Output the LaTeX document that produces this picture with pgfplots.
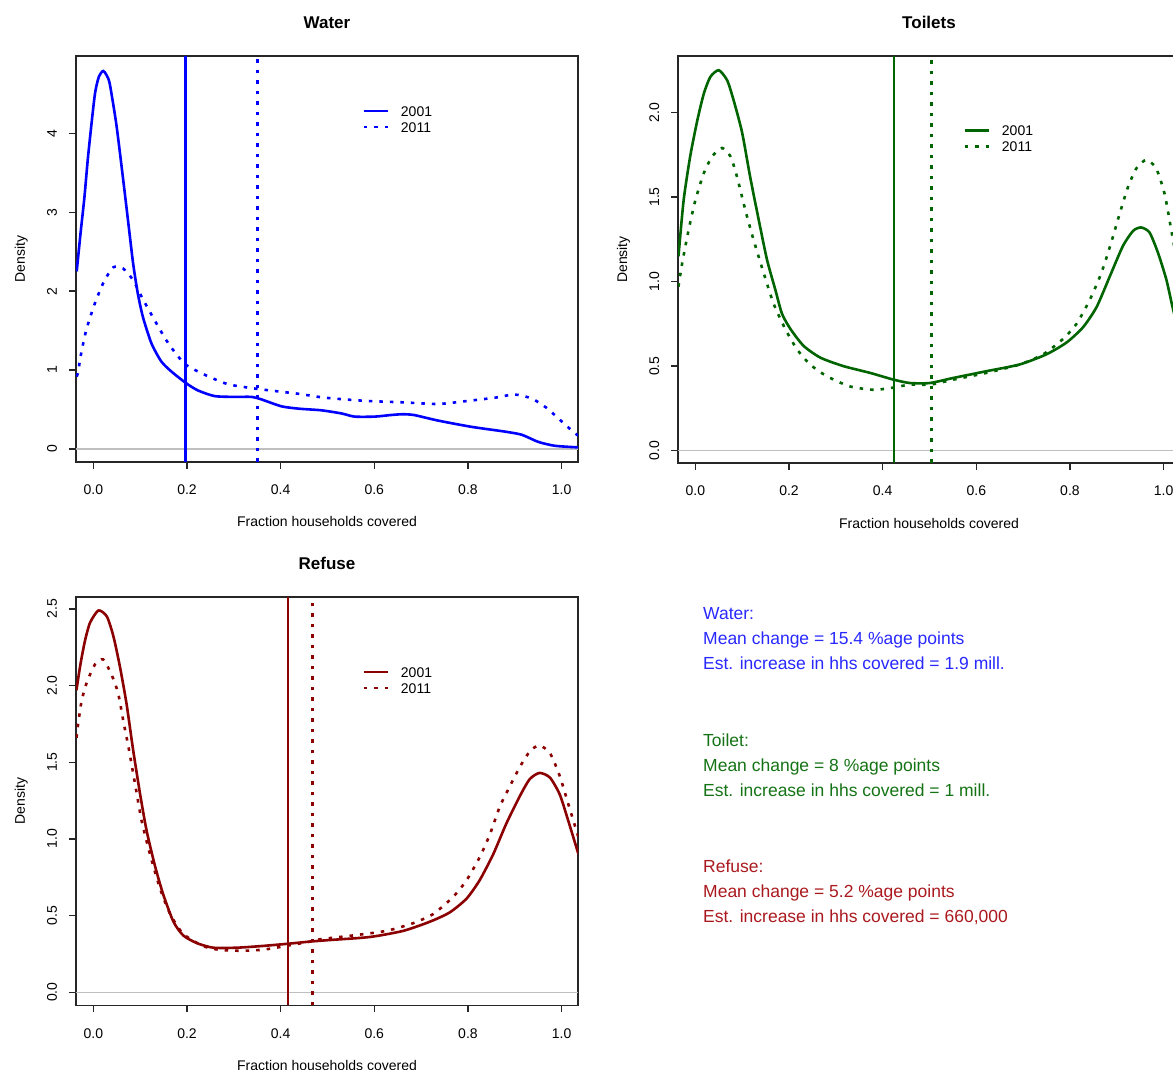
\documentclass[border=0pt]{standalone}
\usepackage{fontspec}
\setmainfont{Liberation Sans}
\usepackage{pgfplots}
\pgfplotsset{compat=1.18}

\definecolor{rblue}{RGB}{0,0,255}
\definecolor{rgreen}{RGB}{0,100,0}
\definecolor{rred}{RGB}{139,0,0}
\definecolor{tblue}{RGB}{40,40,255}
\definecolor{tgreen}{RGB}{20,115,20}
\definecolor{tred}{RGB}{170,25,30}

\newcommand{\tickfont}{\fontsize{14}{16}\selectfont}
\newcommand{\notefont}{\fontsize{17.5}{20}\selectfont}

\pgfplotsset{
  rpanel/.style={
    scale only axis, anchor=south west,
    width=502pt,
    xmin=-0.037, xmax=1.035,
    axis line style={line width=1.3pt, black!85},
    tick style={line width=1.3pt, black!85},
    tick align=outside, major tick length=7pt,
    xtick pos=bottom, ytick pos=left,
    xtick={0,0.2,0.4,0.6,0.8,1.0},
    xticklabels={0.0,0.2,0.4,0.6,0.8,1.0},
    ticklabel style={font=\tickfont},
    xticklabel style={anchor=north, inner sep=0pt, yshift=-16pt},
    yticklabel style={xshift=-12pt, rotate=90, anchor=base, inner sep=0pt},
    title style={at={(0.5,1.054)}, anchor=base, font=\bfseries\fontsize{17}{19}\selectfont},
    xlabel style={at={(axis description cs:0.5,-0.16)}, anchor=base, font=\tickfont},
    ylabel style={at={(axis description cs:-0.1016,0.5)}, anchor=base, font=\tickfont},
    xlabel={Fraction households covered}, ylabel={Density},
    legend cell align=left,
    legend image code/.code={\draw[##1] (0pt,0pt) -- (24pt,0pt); \path (36pt,0pt);},
  },
  curve/.style={line width=2.6pt, smooth, tension=0.4},
  dots/.style={dash pattern=on 3.5pt off 7pt},
  zero/.style={line width=1.2pt, black!25, forget plot},
  mean/.style={line width=2.6pt, forget plot},
}

\begin{document}
\begin{tikzpicture}
\useasboundingbox (0,0) rectangle (1173pt,1070pt);
\clip (0,0) rectangle (1173pt,1070pt);

% ---------------- Water ----------------
\begin{axis}[rpanel, at={(76pt,608pt)}, height=406pt,
  ymin=-0.165, ymax=4.98,
  ytick={0,1,2,3,4}, yticklabels={0,1,2,3,4},
  title={Water},
  legend style={draw=none, fill=none, at={(0.570,0.877)}, anchor=north west,
    inner sep=0pt, row sep=6pt,
    nodes={inner sep=0pt, text height=10pt, text depth=0pt, font=\tickfont}},
]
\addplot[zero] coordinates {(-0.037,0) (1.035,0)};
\addplot[curve, rblue] coordinates {
(-0.0355,2.25) (-0.027,2.75) (-0.019,3.19) (-0.011,3.72) (0.003,4.48)
(0.012,4.72) (0.021,4.79) (0.028,4.74) (0.035,4.63) (0.049,4.12)
(0.063,3.45) (0.074,2.90) (0.085,2.35) (0.095,1.97) (0.106,1.67)
(0.124,1.34) (0.145,1.11) (0.167,0.98) (0.199,0.83) (0.224,0.74)
(0.259,0.67) (0.300,0.66) (0.338,0.66) (0.358,0.63) (0.402,0.54)
(0.440,0.51) (0.487,0.49) (0.530,0.45) (0.558,0.41) (0.601,0.41)
(0.635,0.43) (0.660,0.44) (0.685,0.43) (0.736,0.36) (0.808,0.28)
(0.879,0.22) (0.915,0.18) (0.950,0.09) (0.986,0.04) (1.036,0.02)
};
\addlegendentry{2001}
\addplot[curve, dots, rblue] coordinates {
(-0.036,0.92) (-0.033,0.96) (-0.026,1.21) (-0.015,1.51) (0.003,1.84)
(0.021,2.10) (0.042,2.30) (0.063,2.29) (0.085,2.14) (0.103,1.93)
(0.131,1.63) (0.160,1.34) (0.195,1.08) (0.238,0.94) (0.288,0.82)
(0.352,0.76) (0.437,0.70) (0.494,0.65) (0.580,0.61) (0.665,0.59)
(0.736,0.57) (0.801,0.61) (0.858,0.65) (0.899,0.69) (0.936,0.64)
(0.968,0.52) (1.000,0.35) (1.028,0.20) (1.036,0.17)
};
\addlegendentry{2011}
\addplot[mean, rblue] coordinates {(0.197,-0.165) (0.197,4.98)};
\addplot[mean, dots, rblue] coordinates {(0.351,-0.165) (0.351,4.98)};
\end{axis}

% ---------------- Toilets ----------------
\begin{axis}[rpanel, at={(678pt,607pt)}, height=407pt,
  ymin=-0.073, ymax=2.334,
  ytick={0,0.5,1,1.5,2}, yticklabels={0.0,0.5,1.0,1.5,2.0},
  title={Toilets},
  legend style={draw=none, fill=none, at={(0.568,0.829)}, anchor=north west,
    inner sep=0pt, row sep=6pt,
    nodes={inner sep=0pt, text height=10pt, text depth=0pt, font=\tickfont}},
]
\addplot[zero] coordinates {(-0.037,0) (1.035,0)};
\addplot[curve, rgreen] coordinates {
(-0.036,1.15) (-0.025,1.48) (-0.011,1.74) (0.004,1.95) (0.018,2.11)
(0.032,2.21) (0.050,2.25) (0.068,2.19) (0.082,2.07) (0.100,1.88)
(0.117,1.62) (0.135,1.37) (0.153,1.13) (0.171,0.95) (0.185,0.81)
(0.203,0.72) (0.231,0.62) (0.267,0.55) (0.316,0.50) (0.373,0.46)
(0.423,0.42) (0.458,0.40) (0.501,0.40) (0.551,0.43) (0.622,0.47)
(0.693,0.51) (0.750,0.57) (0.793,0.64) (0.828,0.73) (0.857,0.85)
(0.885,1.03) (0.913,1.21) (0.935,1.30) (0.952,1.32) (0.970,1.29)
(0.988,1.17) (1.006,1.01) (1.019,0.85) (1.036,0.66)
};
\addlegendentry{2001}
\addplot[curve, dots, rgreen] coordinates {
(-0.036,0.97) (-0.028,1.11) (-0.014,1.31) (0.000,1.48) (0.018,1.64)
(0.036,1.74) (0.057,1.79) (0.075,1.74) (0.089,1.62) (0.107,1.42)
(0.124,1.25) (0.146,1.05) (0.167,0.87) (0.192,0.72) (0.217,0.60)
(0.245,0.51) (0.281,0.44) (0.330,0.38) (0.380,0.36) (0.416,0.37)
(0.458,0.39) (0.501,0.39) (0.551,0.42) (0.622,0.46) (0.693,0.51)
(0.743,0.57) (0.785,0.66) (0.814,0.75) (0.842,0.89) (0.867,1.05)
(0.888,1.23) (0.906,1.40) (0.924,1.56) (0.942,1.67) (0.963,1.72)
(0.984,1.67) (1.002,1.52) (1.016,1.31) (1.036,1.00)
};
\addlegendentry{2011}
\addplot[mean, rgreen] coordinates {(0.424,-0.073) (0.424,2.334)};
\addplot[mean, dots, rgreen] coordinates {(0.504,-0.073) (0.504,2.334)};
\end{axis}

% ---------------- Refuse ----------------
\begin{axis}[rpanel, at={(76pt,64.5pt)}, height=408.4pt,
  ymin=-0.087, ymax=2.577,
  ytick={0,0.5,1,1.5,2,2.5}, yticklabels={0.0,0.5,1.0,1.5,2.0,2.5},
  title={Refuse},
  legend style={draw=none, fill=none, at={(0.570,0.829)}, anchor=north west,
    inner sep=0pt, row sep=6pt,
    nodes={inner sep=0pt, text height=10pt, text depth=0pt, font=\tickfont}},
]
\addplot[zero] coordinates {(-0.037,0) (1.035,0)};
\addplot[curve, rred] coordinates {
(-0.036,1.97) (-0.028,2.13) (-0.018,2.29) (-0.007,2.41) (0.011,2.49)
(0.029,2.45) (0.043,2.32) (0.057,2.12) (0.071,1.88) (0.085,1.58)
(0.100,1.29) (0.114,1.05) (0.132,0.82) (0.149,0.64) (0.171,0.46)
(0.192,0.37) (0.221,0.32) (0.256,0.29) (0.306,0.29) (0.356,0.30)
(0.413,0.315) (0.463,0.33) (0.505,0.34) (0.591,0.36) (0.662,0.40)
(0.719,0.46) (0.761,0.52) (0.797,0.61) (0.825,0.73) (0.854,0.90)
(0.882,1.10) (0.911,1.28) (0.932,1.39) (0.953,1.43) (0.975,1.40)
(0.996,1.29) (1.014,1.12) (1.036,0.90)
};
\addlegendentry{2001}
\addplot[curve, dots, rred] coordinates {
(-0.036,1.66) (-0.032,1.76) (-0.025,1.90) (-0.014,2.02) (0.004,2.14)
(0.021,2.17) (0.039,2.07) (0.053,1.95) (0.064,1.77) (0.075,1.60)
(0.089,1.36) (0.103,1.12) (0.121,0.90) (0.142,0.68) (0.164,0.51)
(0.192,0.38) (0.235,0.30) (0.270,0.276) (0.320,0.27) (0.370,0.28)
(0.463,0.33) (0.484,0.345) (0.555,0.37) (0.626,0.40) (0.683,0.45)
(0.726,0.51) (0.768,0.62) (0.797,0.73) (0.825,0.88) (0.847,1.03)
(0.868,1.21) (0.889,1.34) (0.911,1.47) (0.932,1.57) (0.952,1.61)
(0.975,1.56) (0.996,1.41) (1.014,1.23) (1.036,1.01)
};
\addlegendentry{2011}
\addplot[mean, rred] coordinates {(0.416,-0.087) (0.416,2.577)};
\addplot[mean, dots, rred] coordinates {(0.468,-0.087) (0.468,2.577)};
\end{axis}

% ---------------- notes ----------------
\begin{scope}[every node/.style={anchor=base west, inner sep=0pt, font=\notefont}]
\node[text=tblue] at (703pt,450pt) {Water:};
\node[text=tblue] at (703pt,425pt) {Mean change = 15.4 \%age points};
\node[text=tblue] at (703pt,400pt) {Est. increase in hhs covered = 1.9 mill.};
\node[text=tgreen] at (703pt,323.5pt) {Toilet:};
\node[text=tgreen] at (703pt,298.5pt) {Mean change = 8 \%age points};
\node[text=tgreen] at (703pt,273.5pt) {Est. increase in hhs covered = 1 mill.};
\node[text=tred] at (703pt,197pt) {Refuse:};
\node[text=tred] at (703pt,172pt) {Mean change = 5.2 \%age points};
\node[text=tred] at (703pt,147pt) {Est. increase in hhs covered = 660,000};
\end{scope}
\end{tikzpicture}
\end{document}
